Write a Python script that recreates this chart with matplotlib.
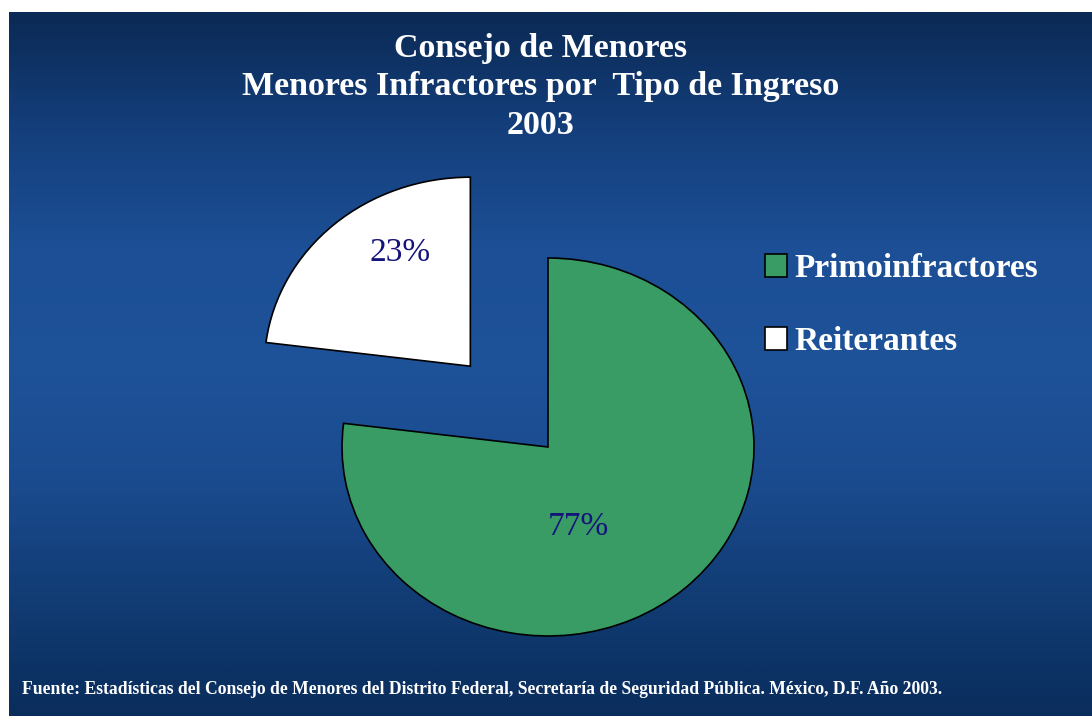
import matplotlib.pyplot as plt
import numpy as np
from matplotlib.colors import LinearSegmentedColormap

# data
categories = ["Primoinfractores", "Reiterantes"]
shares = [77, 23]
title_lines = ["Consejo de Menores", "Menores Infractores por  Tipo de Ingreso", "2003"]
source = ("Fuente: Estadísticas del Consejo de Menores del Distrito Federal, "
          "Secretaría de Seguridad Pública. México, D.F. Año 2003.")

W, H = 1092, 716
SERIF = ["Liberation Serif", "DejaVu Serif"]

fig = plt.figure(figsize=(W / 100, H / 100), dpi=100)
fig.patch.set_facecolor("white")

# slide background, pixel coordinates
bg = fig.add_axes([0, 0, 1, 1])
bg.set_xlim(0, W)
bg.set_ylim(H, 0)
bg.axis("off")
_bg_cmap = LinearSegmentedColormap.from_list(
    "slide", ["#0b2a55", "#143f7c", "#1c4f95", "#1e5299", "#1b4b8f", "#113c74", "#0a2d5c"]
)
grad = np.linspace(0, 1, 300)[:, None] * np.ones((1, 10))
bg.imshow(grad, cmap=_bg_cmap, extent=[9, W, H, 12], aspect="auto", zorder=0)

for i, line in enumerate(title_lines):
    bg.text(541, 49 + i * 38, line, ha="center", va="center", color="white",
            fontsize=24.5, fontweight="bold", family=SERIF)
bg.text(22, 690, source, ha="left", va="center", color="white",
        fontsize=12.7, fontweight="bold", family=SERIF)

# pie: centre (548, 447) px, radii 206 x 189 px
cx, cy, rx, ry = 548, 447, 206, 189
lim = 1.5
ax = fig.add_axes([
    (cx - lim * rx) / W,
    (H - (cy + lim * ry)) / H,
    2 * lim * rx / W,
    2 * lim * ry / H,
])
ax.patch.set_alpha(0)

wedges, _, autotexts = ax.pie(
    shares,
    explode=[0, 0.57],
    startangle=90,
    counterclock=False,
    colors=["#389c64", "white"],
    wedgeprops=dict(edgecolor="black", linewidth=1.2, clip_on=False),
    autopct="%1.0f%%",
    textprops=dict(color="#14147a", fontsize=24, family=SERIF),
)
# PowerPoint-style label spots
autotexts[0].set_position((0.146, -0.423))
autotexts[1].set_position((-0.718, 1.026))
ax.set_aspect("auto")
ax.set_xlim(-lim, lim)
ax.set_ylim(-lim, lim)
ax.axis("off")

fig.legend(
    wedges, categories,
    loc="upper left",
    bbox_to_anchor=(765 / W, 1 - 253 / H),
    frameon=False,
    borderpad=0,
    borderaxespad=0,
    labelcolor="white",
    prop=dict(family=SERIF, weight="bold", size=24),
    handlelength=0.67,
    handleheight=0.67,
    handletextpad=0.2,
    labelspacing=1.27,
)

fig.savefig("out.png", dpi=100)
